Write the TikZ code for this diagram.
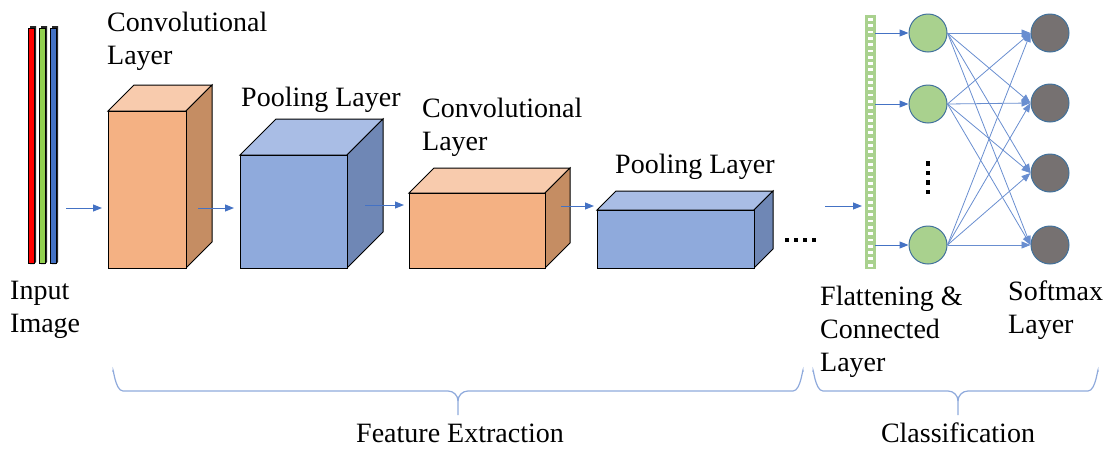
\documentclass[tikz,border=0pt]{standalone}
\usepackage{fontspec}
\setmainfont{LiberationSerif}[Extension=.ttf, UprightFont=*-Regular, BoldFont=*-Bold]
\usetikzlibrary{arrows.meta, positioning, calc}
\definecolor{convfront}{RGB}{244,177,131}
\definecolor{convtop}{RGB}{248,203,173}
\definecolor{convside}{RGB}{197,141,99}
\definecolor{poolfront}{RGB}{143,170,220}
\definecolor{pooltop}{RGB}{169,189,229}
\definecolor{poolside}{RGB}{111,135,181}
\definecolor{arrowblue}{RGB}{68,114,196}
\definecolor{nodegreen}{RGB}{169,209,142}
\definecolor{nodegray}{RGB}{118,113,113}
\definecolor{ringblue}{RGB}{65,113,156}
\definecolor{bracecol}{RGB}{143,170,220}
\definecolor{chgreen}{RGB}{146,208,80}

% box with depth: x1,y1,x2,y2,depth,front,top,side
\newcommand{\layerbox}[8]{%
  \draw[line width=1pt, fill=#7] (#1,#2) -- ++(#5,-#5) -- (#3+#5,#2-#5) -- (#3,#2) -- cycle;
  \draw[line width=1pt, fill=#8] (#3,#2) -- (#3+#5,#2-#5) -- (#3+#5,#4-#5) -- (#3,#4) -- cycle;
  \draw[line width=1pt, fill=#6] (#1,#2) rectangle (#3,#4);
}

\tikzset{
  lbl/.style={font=\rmfamily\fontsize{28}{33}\selectfont, align=left, inner sep=0pt, anchor=north west},
  flow/.style={arrowblue, line width=1pt, -{Triangle[length=9pt,width=7pt]}},
  link/.style={arrowblue!80, line width=0.8pt, -{Triangle[length=9pt,width=7pt]}},
  hidden/.style={circle, draw=ringblue, line width=1pt, fill=nodegreen, minimum size=38pt, inner sep=0pt},
  outnode/.style={circle, draw=ringblue, line width=1pt, fill=nodegray, minimum size=38pt, inner sep=0pt},
  brace/.style={bracecol, line width=1.2pt}
}

\begin{document}
\begin{tikzpicture}[x=1pt, y=-1pt]
    \useasboundingbox (0,0) rectangle (1114,448);

    % ---- INPUT ----
    \foreach \xx/\cc in {28/red, 39/chgreen, 50/arrowblue} {
        \fill[black!85] (\xx+2,26) -- (\xx+8,26) -- (\xx+8,262) -- (\xx+6,264) -- (\xx+2,264) -- cycle;
        \draw[black, line width=0.8pt, fill=\cc] (\xx,28) rectangle (\xx+6,263);
    }
    \node[lbl] (inlbl) at (10,281) {Input\\Image};

    % ---- LAYERS ----
    \layerbox{108}{111}{186}{268}{26}{convfront}{convtop}{convside}
    \layerbox{240}{155}{347}{268}{36}{poolfront}{pooltop}{poolside}
    \layerbox{409}{193}{545}{268}{25}{convfront}{convtop}{convside}
    \layerbox{597}{210}{754}{268}{19}{poolfront}{pooltop}{poolside}

    \node[lbl] (conv1lbl) at (107,12) {Convolutional\\Layer};
    \node[lbl] (pool1lbl) at (241,87) {Pooling Layer};
    \node[lbl] (conv2lbl) at (422,98) {Convolutional\\Layer};
    \node[lbl] (pool2lbl) at (615,154) {Pooling Layer};

    % dots
    \foreach \i in {0,...,3}
        \fill (785+\i*9,238) rectangle ++(4,4);

    % ---- ARROWS between layers ----
    \coordinate (inout) at (66,208);  \coordinate (c1in) at (102,208);
    \coordinate (c1out) at (198,208); \coordinate (p1in) at (234,208);
    \coordinate (p1out) at (365,205); \coordinate (c2in) at (404,205);
    \coordinate (c2out) at (561,206); \coordinate (p2in) at (594,206);
    \coordinate (p2out) at (825,206); \coordinate (flatin) at (862,206);
    \draw[flow] (inout) -- (c1in);
    \draw[flow] (c1out) -- (p1in);
    \draw[flow] (p1out) -- (c2in);
    \draw[flow] (c2out) -- (p2in);
    \draw[flow] (p2out) -- (flatin);

    % ---- FLATTEN ----
    \node[draw=nodegreen, fill=nodegreen, line width=0.6pt, minimum width=10pt,
          minimum height=253pt, inner sep=0pt] (flat) at (870,141.5) {};
    \foreach \yy in {18,24.3,...,264}
        \fill[white] (867.5,\yy) rectangle (872.5,\yy+2.8);

    % ---- NEURONS ----
    \node[hidden] (h1) at (928,33) {};
    \node[hidden] (h2) at (928,104) {};
    \node[hidden] (h3) at (928,245) {};
    \foreach \i in {0,...,3}
        \fill (926,161+\i*9.5) rectangle ++(4,4.5);

    \node[outnode] (o1) at (1050,33) {};
    \node[outnode] (o2) at (1050,103) {};
    \node[outnode] (o3) at (1050,173) {};
    \node[outnode] (o4) at (1050,245) {};

    \foreach \h in {h1,h2,h3}
        \draw[flow] (flat.east |- \h) -- (\h.west);
    \foreach \h in {h1,h2,h3}
        \foreach \o in {o1,o2,o3,o4}
            \draw[link] (\h.east) -- (\o.west);

    \node[lbl] (flatlbl) at (820,286) {Flattening \&\\Connected\\Layer};
    \node[lbl] (softlbl) at (1008,281) {Softmax\\Layer};

    % ---- BRACES ----
    \draw[brace] (113,372) to[out=90,in=180] (123,391) -- (448,391)
        to[out=0,in=90] (458,401) -- (458,415);
    \draw[brace] (458,401) to[out=90,in=180] (468,391) -- (793,391)
        to[out=0,in=90] (803,372);
    \draw[brace] (813,372) to[out=90,in=180] (823,391) -- (948,391)
        to[out=0,in=90] (958,401) -- (958,415);
    \draw[brace] (958,401) to[out=90,in=180] (968,391) -- (1088,391)
        to[out=0,in=90] (1098,372);
    \node[lbl, anchor=base] (featlbl) at (460,442) {Feature Extraction};
    \node[lbl, anchor=base] (clslbl) at (958,442) {Classification};
\end{tikzpicture}
\end{document}
